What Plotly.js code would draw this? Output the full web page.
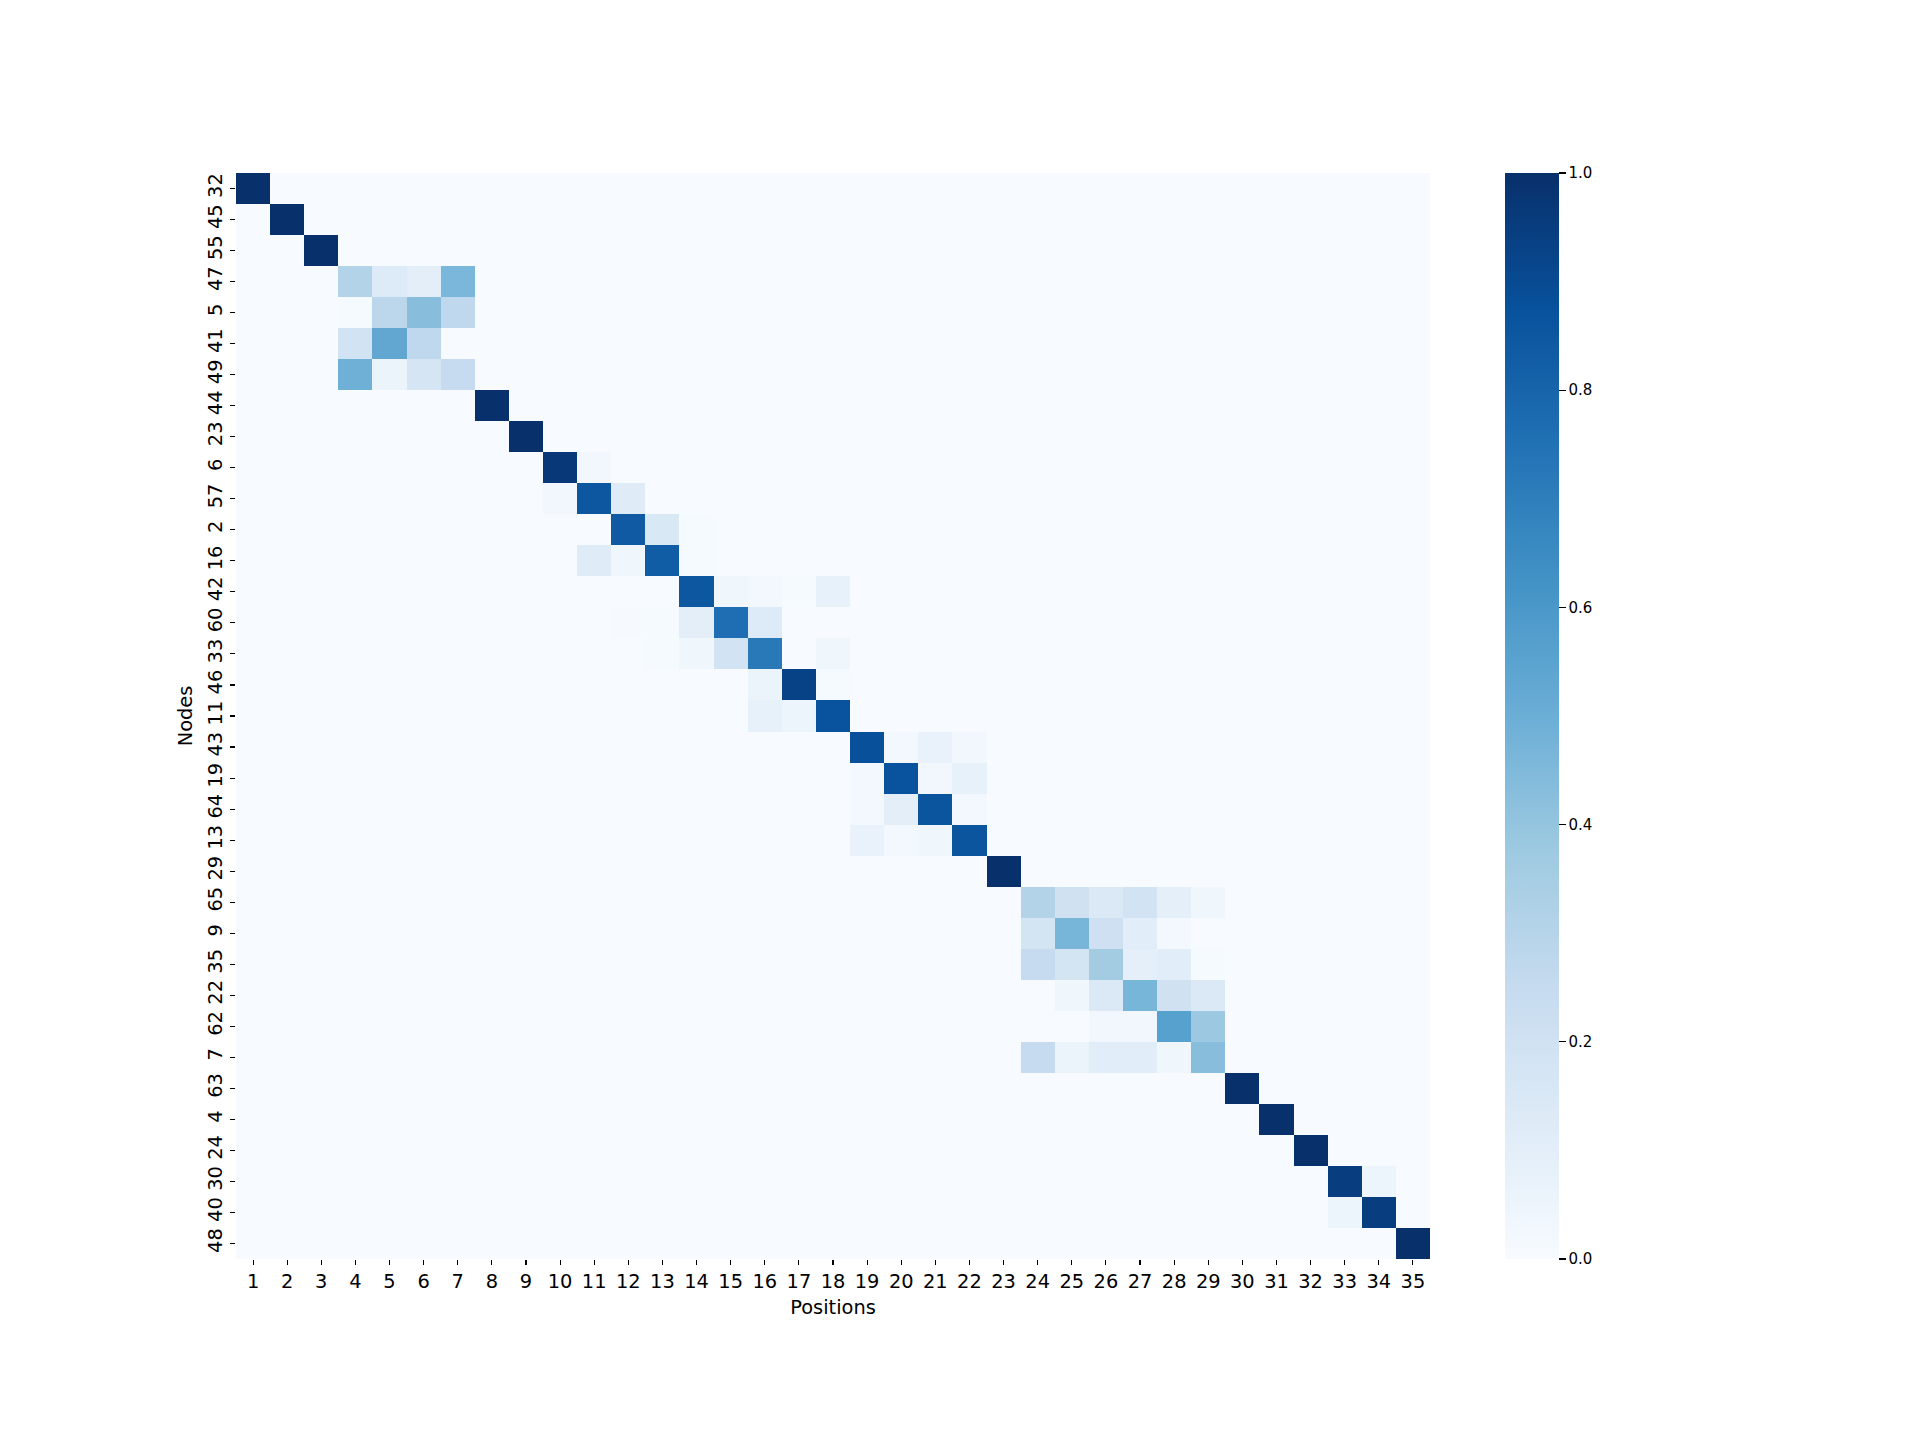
<!DOCTYPE html>
<html>
<head>
<meta charset="utf-8">
<script src="https://cdn.plot.ly/plotly-3.0.1.min.js"></script>
<style>html,body{margin:0;padding:0;background:#fff;}</style>
</head>
<body>
<div id="chart" style="width:1920px;height:1440px;"></div>
<script>
// Column categories (positions)
const positions = ['1','2','3','4','5','6','7','8','9','10','11','12','13','14','15','16','17','18','19','20','21','22','23','24','25','26','27','28','29','30','31','32','33','34','35'];
// Row categories (nodes), top to bottom
const nodes = ['32','45','55','47','5','41','49','44','23','6','57','2','16','42','60','33','46','11','43','19','64','13','29','65','9','35','22','62','7','63','4','24','30','40','48'];
// Non-zero cells of each row: [position, value]; every other cell is 0
const rowCells = [
  [[1,1.0]],
  [[2,1.0]],
  [[3,1.0]],
  [[4,0.31],[5,0.13],[6,0.10],[7,0.46]],
  [[4,0.01],[5,0.28],[6,0.43],[7,0.27]],
  [[4,0.19],[5,0.53],[6,0.27]],
  [[4,0.49],[5,0.06],[6,0.17],[7,0.25]],
  [[8,1.0]],
  [[9,1.0]],
  [[10,0.97],[11,0.03]],
  [[10,0.03],[11,0.85],[12,0.12]],
  [[12,0.84],[13,0.15],[14,0.01]],
  [[11,0.12],[12,0.04],[13,0.83],[14,0.01]],
  [[14,0.85],[15,0.04],[16,0.02],[17,0.01],[18,0.08]],
  [[12,0.005],[13,0.01],[14,0.10],[15,0.76],[16,0.13]],
  [[13,0.01],[14,0.04],[15,0.19],[16,0.72],[18,0.04]],
  [[16,0.06],[17,0.93],[18,0.01]],
  [[16,0.08],[17,0.05],[18,0.87]],
  [[19,0.88],[20,0.02],[21,0.07],[22,0.03]],
  [[19,0.02],[20,0.87],[21,0.03],[22,0.08]],
  [[19,0.02],[20,0.10],[21,0.86],[22,0.02]],
  [[19,0.07],[20,0.02],[21,0.04],[22,0.86]],
  [[23,1.0]],
  [[24,0.31],[25,0.20],[26,0.14],[27,0.19],[28,0.09],[29,0.04]],
  [[24,0.18],[25,0.47],[26,0.21],[27,0.11],[28,0.02]],
  [[24,0.25],[25,0.18],[26,0.36],[27,0.09],[28,0.11],[29,0.01]],
  [[25,0.04],[26,0.14],[27,0.47],[28,0.20],[29,0.14]],
  [[26,0.03],[27,0.03],[28,0.56],[29,0.38]],
  [[24,0.25],[25,0.06],[26,0.11],[27,0.11],[28,0.04],[29,0.43]],
  [[30,1.0]],
  [[31,1.0]],
  [[32,1.0]],
  [[33,0.95],[34,0.05]],
  [[33,0.05],[34,0.95]],
  [[35,1.0]]
];
const cbTickVals = [0.0,0.2,0.4,0.6,0.8,1.0];
const cbTickText = ['0.0','0.2','0.4','0.6','0.8','1.0'];

// Build the z table for the heatmap
const z = rowCells.map(cells => {
  const row = positions.map(() => 0);
  cells.forEach(([p, v]) => { row[p - 1] = v; });
  return row;
});

const blues = [
  [0.0,'#f7fbff'],[0.125,'#deebf7'],[0.25,'#c6dbef'],[0.375,'#9ecae1'],
  [0.5,'#6baed6'],[0.625,'#4292c6'],[0.75,'#2171b5'],[0.875,'#08519c'],[1.0,'#08306b']
];

const font = 'DejaVu Sans, sans-serif';
const trace = {
  type: 'heatmap',
  x: positions,
  y: nodes,
  z: z,
  zmin: 0, zmax: 1,
  colorscale: blues,
  xgap: 0, ygap: 0,
  colorbar: {
    x: 1.0628, xanchor: 'left', xpad: 0,
    y: 0.5, yanchor: 'middle', ypad: 0,
    len: 1, lenmode: 'fraction',
    thickness: 54, thicknessmode: 'pixels',
    outlinewidth: 0,
    ticks: 'outside', ticklen: 7, tickwidth: 1.1, tickcolor: '#000',
    tickvals: cbTickVals, ticktext: cbTickText,
    tickfont: {family: font, size: 15, color: '#000'}
  }
};

const layout = {
  width: 1920, height: 1440,
  margin: {l: 236, r: 490, t: 173, b: 181, pad: 0},
  paper_bgcolor: '#fff', plot_bgcolor: '#fff',
  font: {family: font, color: '#000'},
  xaxis: {
    type: 'category', showgrid: false, zeroline: false, showline: false,
    ticks: 'outside', ticklen: 5, tickwidth: 1.1, tickcolor: '#000',
    tickfont: {family: font, size: 19.4, color: '#000'},
    title: {text: 'Positions', font: {family: font, size: 19.4, color: '#000'}, standoff: 8}
  },
  yaxis: {
    type: 'category', autorange: 'reversed', showgrid: false, zeroline: false, showline: false,
    ticks: 'outside', ticklen: 5, tickwidth: 1.1, tickcolor: '#000', tickangle: -90,
    tickfont: {family: font, size: 19.4, color: '#000'},
    title: {text: 'Nodes', font: {family: font, size: 19.4, color: '#000'}, standoff: 6}
  }
};

Plotly.newPlot('chart', [trace], layout, {displayModeBar: false, staticPlot: true});
</script>
</body>
</html>
